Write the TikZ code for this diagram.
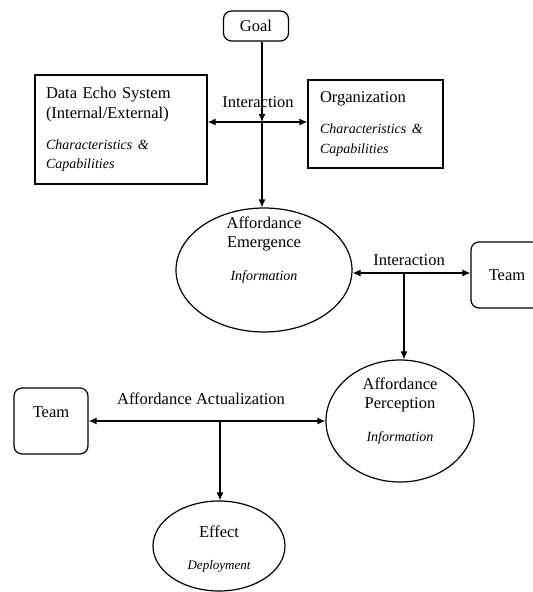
\documentclass[tikz,border=0pt]{standalone}
\usepackage{fontspec}
\setmainfont{Liberation Serif}
\usetikzlibrary{arrows.meta,shapes.geometric}

\newcommand{\itsmall}[1]{{\fontsize{14}{18}\selectfont\itshape #1}}

\begin{document}
\begin{tikzpicture}[x=1pt,y=-1pt,font=\fontsize{16.5}{19.5}\selectfont,
  line width=1.2pt,>={Latex[length=8pt,width=7pt]},
  box/.style={draw,rectangle,inner sep=0pt,align=left},
  rbox/.style={draw,rectangle,rounded corners=8pt,inner sep=0pt},
  oval/.style={draw,ellipse,inner sep=0pt}]
  \useasboundingbox (0,0) rectangle (533,592);
  \clip (0,0) rectangle (533,592);
  \node[rbox,minimum width=65,minimum height=30] (goal) at (256,26) {Goal};
  \node[box,minimum width=172,minimum height=109,text width=150] (dataeco) at (121,129.5)
    {Data Echo System\\(Internal/External)\\[13pt]\itsmall{Characteristics \&\\Capabilities}};
  \node[box,minimum width=135,minimum height=88,text width=111] (org) at (375.5,124)
    {Organization\\[13pt]\itsmall{Characteristics \&\\Capabilities}};
  \node[oval,minimum width=176,minimum height=124] (emergence) at (264,270) {};
  \node[align=center] (emergencetext) at (264,250) {Affordance\\Emergence\\[13pt]\itsmall{Information}};
  \node[rbox,minimum width=72,minimum height=66] (teamR) at (507,275) {Team};
  \node[oval,minimum width=148,minimum height=122] (perception) at (400,421) {};
  \node[align=center] (perceptiontext) at (400,411) {Affordance\\Perception\\[13pt]\itsmall{Information}};
  \node[rbox,minimum width=74,minimum height=66] (teamL) at (51,421) {};
  \node (teamLtext) at (51,412) {Team};
  \node[oval,minimum width=132,minimum height=90] (effect) at (219,546) {};
  \node[align=center] (effecttext) at (219,549) {Effect\\[12pt]{\fontsize{13}{16}\selectfont\itshape Deployment}};

  \coordinate (top) at (262,122);
  \coordinate (mid) at (404,273);
  \coordinate (low) at (220,421);
  \node (inter1) at (258,102) {Interaction};
  \node (inter2) at (409,260) {Interaction};
  \node (actual) at (201,399) {Affordance Actualization};

  \draw[->] (goal.south -| top) -- (top);
  \draw[<->] (dataeco.east |- top) -- (org.west |- top);
  \draw[->] (top) -- (top |- emergence.north);
  \draw[<->] (emergence.east |- mid) -- (teamR.west |- mid);
  \draw[->] (mid) -- (mid |- perception.north);
  \draw[<->] (teamL.east |- low) -- (perception.west |- low);
  \draw[->] (low) -- (low |- effect.north);
\end{tikzpicture}
\end{document}
